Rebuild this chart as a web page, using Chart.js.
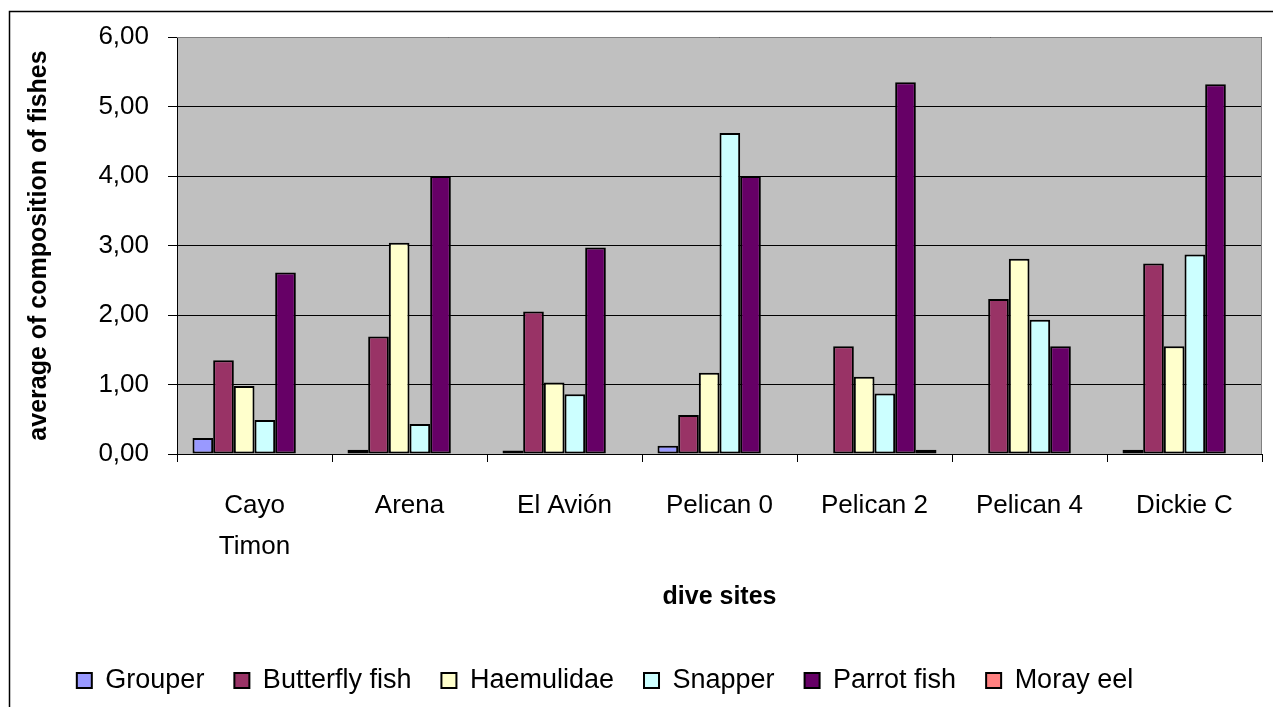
<!DOCTYPE html>
<html>
<head>
<meta charset="utf-8">
<script src="https://cdn.jsdelivr.net/npm/chart.js@4/dist/chart.umd.min.js"></script>
<style>
  html, body { margin: 0; padding: 0; background: #ffffff; overflow: hidden; }
  canvas { display: block; }
</style>
</head>
<body>
<canvas id="c" width="1273" height="707"></canvas>
<script>
// ---- data ----
const categories = [['Cayo', 'Timon'], 'Arena', 'El Avión', 'Pelican 0', 'Pelican 2', 'Pelican 4', 'Dickie C'];
const seriesNames = ['Grouper', 'Butterfly fish', 'Haemulidae', 'Snapper', 'Parrot fish', 'Moray eel'];
const grouper     = [0.23, 0.06, 0.05, 0.12, 0.00, 0.00, 0.06];
const butterfly   = [1.35, 1.69, 2.05, 0.56, 1.55, 2.23, 2.74];
const haemulidae  = [0.98, 3.04, 1.03, 1.17, 1.11, 2.81, 1.55];
const snapper     = [0.49, 0.43, 0.86, 4.62, 0.87, 1.93, 2.87];
const parrotfish  = [2.61, 4.00, 2.97, 4.00, 5.35, 1.55, 5.32];
const morayeel    = [0.00, 0.00, 0.00, 0.00, 0.06, 0.00, 0.00];
const yTickLabels = ['0,00', '1,00', '2,00', '3,00', '4,00', '5,00', '6,00'];
const seriesColors = ['#9999FF', '#993366', '#FFFFCC', '#CCFFFF', '#660066', '#FF8080'];

const seriesValues = [grouper, butterfly, haemulidae, snapper, parrotfish, morayeel];
const FONT = 'Liberation Sans, Arial, sans-serif';

const datasets = seriesNames.map((name, i) => ({
  label: name,
  data: seriesValues[i],
  backgroundColor: seriesColors[i],
  borderColor: '#000000',
  borderWidth: 2,
  borderSkipped: false,
  categoryPercentage: 0.8,
  barPercentage: 1.0
}));

const frame = {
  id: 'frame',
  beforeDraw(chart) {
    const ctx = chart.ctx;
    const a = chart.chartArea;
    ctx.save();
    ctx.fillStyle = '#FFFFFF';
    ctx.fillRect(0, 0, chart.width, chart.height);
    ctx.strokeStyle = '#000000';
    ctx.lineWidth = 1.5;
    ctx.strokeRect(9.5, 11.5, chart.width + 50, chart.height + 50);
    ctx.fillStyle = '#C0C0C0';
    ctx.fillRect(a.left, a.top, a.right - a.left, a.bottom - a.top);
    ctx.restore();
  },
  afterDatasetsDraw(chart) {
    const ctx = chart.ctx;
    const a = chart.chartArea;
    ctx.save();
    ctx.strokeStyle = '#808080';
    ctx.lineWidth = 1;
    ctx.beginPath();
    ctx.moveTo(a.left, a.top + 0.5);
    ctx.lineTo(a.right - 0.5, a.top + 0.5);
    ctx.lineTo(a.right - 0.5, a.bottom);
    ctx.stroke();
    ctx.restore();
  },
  afterLayout(chart) {
    const lg = chart.legend;
    if (lg) { lg.left -= 26; lg.right -= 26; }
  }
};

new Chart(document.getElementById('c'), {
  type: 'bar',
  data: { labels: categories, datasets },
  plugins: [frame],
  options: {
    responsive: false,
    animation: false,
    devicePixelRatio: 1,
    layout: { padding: { top: 37, right: 11, bottom: 3, left: 0 } },
    plugins: {
      tooltip: { enabled: false },
      legend: {
        position: 'bottom',
        align: 'center',
        labels: {
          color: '#000000',
          font: { family: FONT, size: 27 },
          boxWidth: 15,
          boxHeight: 15,
          padding: 30
        }
      }
    },
    scales: {
      x: {
        grid: {
          display: true,
          drawOnChartArea: false,
          drawTicks: true,
          tickLength: 8,
          color: '#000000',
          lineWidth: 1,
          offset: true
        },
        border: { display: true, color: '#000000', width: 1 },
        ticks: {
          color: '#000000',
          font: { family: FONT, size: 26, lineHeight: 1.58 },
          padding: 23,
          maxRotation: 0,
          autoSkip: false
        },
        title: {
          display: true,
          text: 'dive sites',
          color: '#000000',
          font: { family: FONT, size: 25, weight: 'bold' },
          padding: { top: 4, bottom: 25 }
        },
        afterFit(scale) { scale.height = 183; }
      },
      y: {
        min: 0,
        max: 6,
        grid: {
          color: '#000000',
          lineWidth: 1,
          tickLength: 9,
          drawTicks: true
        },
        border: { display: true, color: '#000000', width: 1 },
        ticks: {
          stepSize: 1,
          color: '#000000',
          font: { family: FONT, size: 26 },
          padding: 19,
          callback: (v) => yTickLabels[Math.round(v)]
        },
        title: {
          display: true,
          text: 'average of composition of fishes',
          color: '#000000',
          font: { family: FONT, size: 25, weight: 'bold' },
          padding: { top: 24, bottom: 0 }
        },
        afterFit(scale) { scale.width = 177; }
      }
    }
  }
});
</script>
</body>
</html>
